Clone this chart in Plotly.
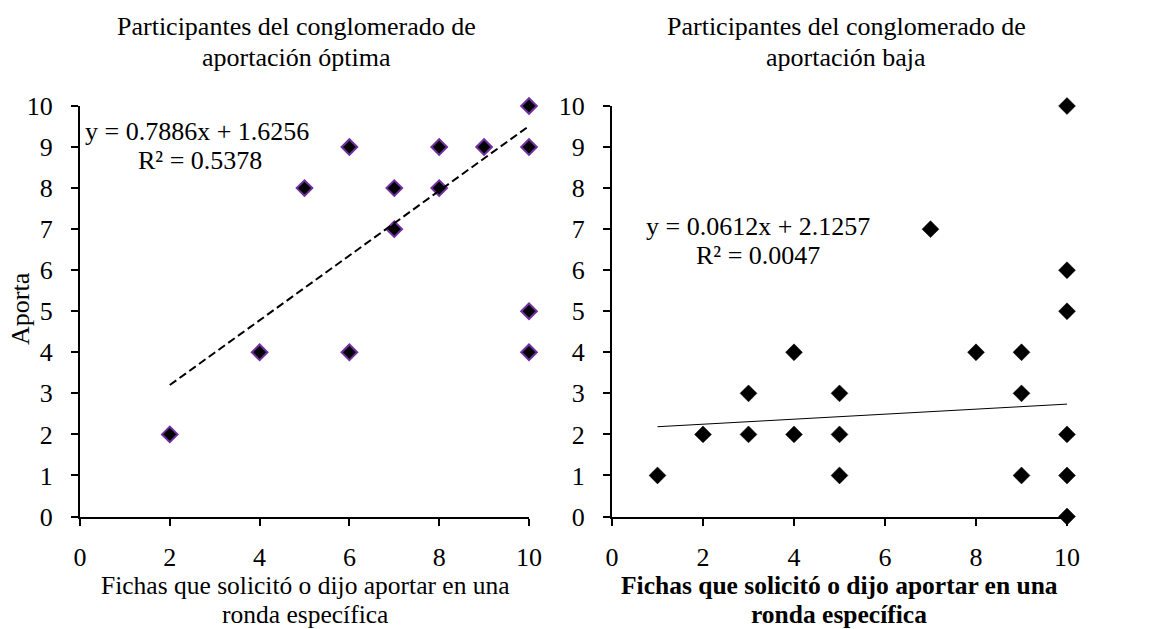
import plotly.graph_objects as go

# Left chart data (conglomerado de aportación óptima)
left_x = [2, 4, 5, 6, 6, 7, 7, 8, 8, 9, 10, 10, 10, 10]
left_y = [2, 4, 8, 9, 4, 8, 7, 9, 8, 9, 10, 9, 5, 4]
left_slope, left_intercept = 0.7886, 1.6256
left_r2 = 0.5378

# Right chart data (conglomerado de aportación baja)
right_x = [1, 2, 3, 3, 4, 4, 5, 5, 5, 7, 8, 9, 9, 9, 10, 10, 10, 10, 10, 10]
right_y = [1, 2, 3, 2, 4, 2, 3, 2, 1, 7, 4, 4, 3, 1, 10, 6, 5, 2, 1, 0]
right_slope, right_intercept = 0.0612, 2.1257
right_r2 = 0.0047

x_ticks = [0, 2, 4, 6, 8, 10]
y_ticks = list(range(0, 11))

FONT = "Liberation Serif, Times New Roman, serif"
W, H = 1150, 629
FS = 26

fig = go.Figure()

fig.add_trace(go.Scatter(x=left_x, y=left_y, mode="markers", xaxis="x", yaxis="y",
                         marker=dict(symbol="diamond", size=12, color="black",
                                     line=dict(color="#7030A0", width=2)),
                         cliponaxis=False, showlegend=False))
lx = [min(left_x), max(left_x)]
fig.add_trace(go.Scatter(x=lx, y=[left_slope * v + left_intercept for v in lx], mode="lines",
                         xaxis="x", yaxis="y", line=dict(color="black", width=2, dash="8px,4px"),
                         showlegend=False))

fig.add_trace(go.Scatter(x=right_x, y=right_y, mode="markers", xaxis="x2", yaxis="y2",
                         marker=dict(symbol="diamond", size=13, color="black",
                                     line=dict(color="black", width=0.5)),
                         cliponaxis=False, showlegend=False))
rx = [min(right_x), max(right_x)]
fig.add_trace(go.Scatter(x=rx, y=[right_slope * v + right_intercept for v in rx], mode="lines",
                         xaxis="x2", yaxis="y2", line=dict(color="black", width=1),
                         showlegend=False))

ydom = [1 - 516.5 / H, 1 - 106 / H]
axis_common = dict(range=[0, 10], showgrid=False, zeroline=False, showline=True,
                   linecolor="black", linewidth=2, ticks="outside", ticklen=7,
                   tickwidth=1.5, tickcolor="black", automargin=False,
                   tickfont=dict(family=FONT, size=FS, color="black"))

fig.update_layout(
    width=W, height=H, autosize=False,
    margin=dict(l=0, r=0, t=0, b=0, pad=0, autoexpand=False),
    paper_bgcolor="white", plot_bgcolor="white",
    font=dict(family=FONT, color="black"),
    xaxis=dict(domain=[80 / W, 529 / W], anchor="y", tickvals=x_ticks,
               ticklabelstandoff=9, **axis_common),
    yaxis=dict(domain=ydom, anchor="x", tickvals=y_ticks, ticklabelstandoff=13, **axis_common),
    xaxis2=dict(domain=[612 / W, 1067 / W], anchor="y2", tickvals=x_ticks,
                ticklabelstandoff=9, **axis_common),
    yaxis2=dict(domain=ydom, anchor="x2", tickvals=y_ticks, ticklabelstandoff=13, **axis_common),
)

ann = []
def paper(x, y):
    return x / W, 1 - y / H

def add_text(text, px, py, size=FS, angle=0, xanchor="center"):
    x, y = paper(px, py)
    ann.append(dict(text=text, x=x, y=y, xref="paper", yref="paper", showarrow=False,
                    xanchor=xanchor, yanchor="middle", textangle=angle,
                    font=dict(family=FONT, size=size, color="black")))

add_text("Participantes del conglomerado de", 296, 27)
add_text("aportación óptima", 296, 58)
add_text("Participantes del conglomerado de", 846, 27)
add_text("aportación baja", 846, 58)
add_text("Fichas que solicitó o dijo aportar en una", 305, 585, size=25.5)
add_text("ronda específica", 305, 614, size=25.5)
add_text("<b>Fichas que solicitó o dijo aportar en una</b>", 839, 585, size=25.5)
add_text("<b>ronda específica</b>", 839, 614, size=25.5)
add_text("Aporta", 20, 309, angle=-90)
add_text(f"y = {left_slope}x + {left_intercept}", 197, 131)
add_text(f"R² = {left_r2}", 200, 160)
add_text(f"y = {right_slope}x + {right_intercept}", 758, 226)
add_text(f"R² = {right_r2}", 758, 255)

fig.update_layout(annotations=ann)
fig.write_html("out.html")
